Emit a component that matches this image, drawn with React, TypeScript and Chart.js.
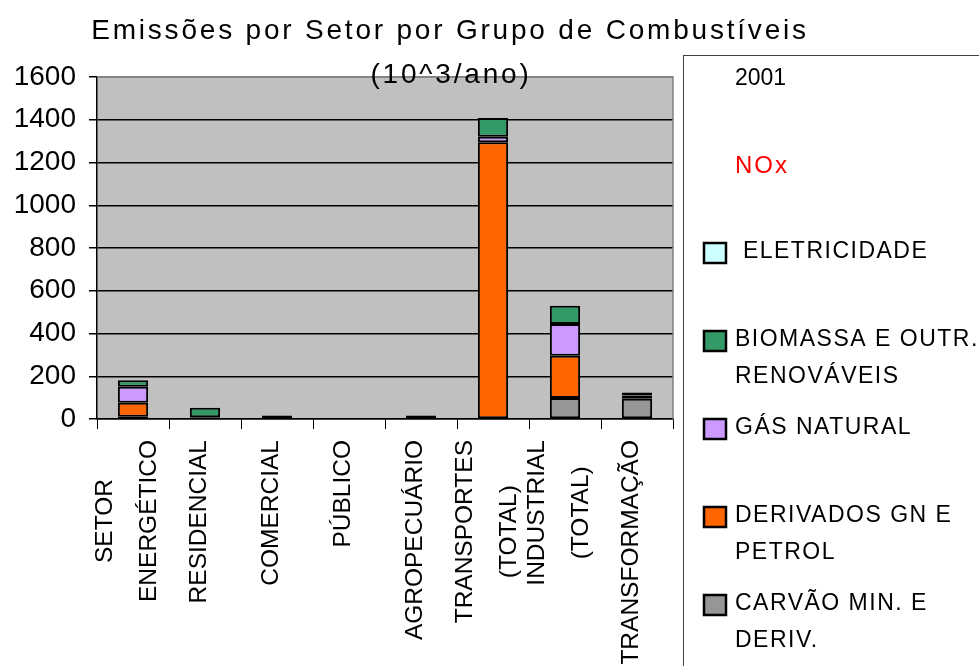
import React, { useEffect, useRef } from 'react';
import { Chart, registerables } from 'chart.js';

Chart.register(...registerables);

const FONT = '"Liberation Sans", Arial, Helvetica, sans-serif';

// ---- data ----
const categories: string[][] = [
  ['SETOR', 'ENERGÉTICO'],
  ['RESIDENCIAL'],
  ['COMERCIAL'],
  ['PÚBLICO'],
  ['AGROPECUÁRIO'],
  ['TRANSPORTES', '(TOTAL)'],
  ['INDUSTRIAL', '(TOTAL)'],
  ['TRANSFORMAÇÃO'],
];
const carvao = [10, 0, 0, 0, 0, 0, 98, 95];
const derivados = [66, 8, 16, 0, 16, 1295, 198, 15];
const gasNatural = [75, 0, 0, 0, 0, 25, 148, 0];
const biomassa = [30, 45, 0, 0, 0, 88, 86, 14];
const eletricidade = [0, 0, 0, 0, 0, 0, 0, 0];

const seriesNames: string[][] = [
  ['CARVÃO MIN. E', 'DERIV.'],
  ['DERIVADOS GN E', 'PETROL'],
  ['GÁS NATURAL'],
  ['BIOMASSA E OUTR.', 'RENOVÁVEIS'],
  [' ELETRICIDADE'],
];
const seriesColors = ['#969696', '#FF6600', '#CC99FF', '#339966', '#CCFFFF'];

const yMin = 0;
const yMax = 1600;
const yStep = 200;

const titleLines = ['Emissões por Setor por Grupo de Combustíveis', '(10^3/ano)'];
const legendYear = '2001';
const legendPollutant = 'NOx';

const decorPlugin = {
  id: 'decor',
  beforeDraw(chart: any) {
    const { ctx, chartArea: a } = chart;
    ctx.save();
    ctx.fillStyle = '#C0C0C0';
    ctx.fillRect(a.left, a.top, a.right - a.left, a.bottom - a.top);
    ctx.restore();
  },
  afterDraw(chart: any) {
    const { ctx, chartArea: a } = chart;
    const xs = chart.scales.x;
    ctx.save();
    // plot border top/right
    ctx.strokeStyle = '#808080';
    ctx.lineWidth = 1.5;
    ctx.beginPath();
    ctx.moveTo(a.left, a.top);
    ctx.lineTo(a.right, a.top);
    ctx.lineTo(a.right, a.bottom);
    ctx.stroke();

    // x labels (rotated, centered blocks)
    ctx.fillStyle = '#000';
    ctx.font = `24.5px ${FONT}`;
    ctx.textAlign = 'center';
    ctx.textBaseline = 'middle';
    const gap = 44;
    const blockTop = a.bottom + 21;
    categories.forEach((lines, i) => {
      const cx = xs.getPixelForValue(i) - 6;
      const maxW = Math.max(...lines.map((l) => ctx.measureText(l).width));
      const cy = blockTop + maxW / 2;
      lines.forEach((line, j) => {
        const x = cx + (j - (lines.length - 1) / 2) * gap;
        ctx.save();
        ctx.translate(x, cy);
        ctx.rotate(-Math.PI / 2);
        ctx.fillText(line, 0, 0);
        ctx.restore();
      });
    });

    // title
    ctx.fillStyle = '#000';
    ctx.font = `28px ${FONT}`;
    (ctx as any).letterSpacing = '2.8px';
    ctx.textAlign = 'center';
    ctx.textBaseline = 'middle';
    ctx.fillText(titleLines[0], 450, 31);
    ctx.fillText(titleLines[1], 451, 75);
    (ctx as any).letterSpacing = '0px';

    // legend box
    const lx = 683;
    const ly = 55;
    ctx.fillStyle = '#FFFFFF';
    ctx.fillRect(lx, ly, 400, 700);
    ctx.strokeStyle = '#404040';
    ctx.lineWidth = 1;
    ctx.strokeRect(lx + 0.5, ly + 0.5, 400, 700);

    ctx.textAlign = 'left';
    ctx.textBaseline = 'middle';
    ctx.font = `23px ${FONT}`;
    ctx.fillStyle = '#000';
    ctx.fillText(legendYear, 735, 79);
    (ctx as any).letterSpacing = '2px';
    ctx.font = `24px ${FONT}`;
    ctx.fillStyle = '#FF0000';
    ctx.fillText(legendPollutant, 735, 166);
    ctx.font = `23px ${FONT}`;
    (ctx as any).letterSpacing = '1.5px';

    const ds = chart.data.datasets;
    const order = ds.map((_: any, i: number) => i).reverse();
    order.forEach((di: number, k: number) => {
      const sy = 253 + k * 88;
      ctx.fillStyle = ds[di].backgroundColor;
      ctx.fillRect(704, sy - 10, 22, 20);
      ctx.strokeStyle = '#000';
      ctx.lineWidth = 2.5;
      ctx.strokeRect(704, sy - 10, 22, 20);
      ctx.fillStyle = '#000';
      const lines = seriesNames[di];
      lines.forEach((line, j) => {
        ctx.fillText(line, 735, sy - 1 + j * 37);
      });
    });
    (ctx as any).letterSpacing = '0px';
    ctx.restore();
  },
};

export default function App() {
  const canvasRef = useRef<HTMLCanvasElement | null>(null);

  useEffect(() => {
    if (!canvasRef.current) return;
    const seriesData = [carvao, derivados, gasNatural, biomassa, eletricidade];
    const chart = new Chart(canvasRef.current, {
      type: 'bar',
      data: {
        labels: categories.map((c) => c.join(' ')),
        datasets: seriesData.map((d, i) => ({
          label: seriesNames[i].join(' ').trim(),
          data: d,
          backgroundColor: seriesColors[i],
          borderColor: '#000000',
          borderWidth: 2,
          borderSkipped: false,
          barPercentage: 0.84,
          categoryPercentage: 0.5,
        })),
      },
      options: {
        responsive: false,
        animation: false,
        layout: { padding: { left: 0, top: 77, right: 306, bottom: 0 } },
        plugins: {
          legend: { display: false },
          title: { display: false },
          tooltip: { enabled: false },
        },
        scales: {
          x: {
            stacked: true,
            ticks: { display: false },
            grid: {
              offset: true,
              drawOnChartArea: false,
              drawTicks: true,
              tickLength: 10,
              color: '#000',
              lineWidth: 1,
            },
            border: { color: '#000', width: 1.5 },
            afterFit: (s: any) => {
              s.height = 247;
            },
          },
          y: {
            stacked: true,
            min: yMin,
            max: yMax,
            ticks: {
              stepSize: yStep,
              color: '#000',
              font: { family: FONT, size: 28 },
              padding: 13,
              callback: (v: any) => String(v),
            },
            grid: {
              color: (c: any) => (c.tick && c.tick.value === yMax ? '#808080' : '#000'),
              tickColor: '#000',
              lineWidth: 1.5,
              tickLength: 8,
            },
            border: { color: '#000', width: 1.5 },
            afterFit: (s: any) => {
              s.width = 97;
            },
          },
        },
      },
      plugins: [decorPlugin],
    });
    return () => chart.destroy();
  }, []);

  return (
    <div style={{ position: 'fixed', left: 0, top: 0, width: 979, height: 666, background: '#fff' }}>
      <canvas ref={canvasRef} width={979} height={666} style={{ display: 'block' }} />
    </div>
  );
}
